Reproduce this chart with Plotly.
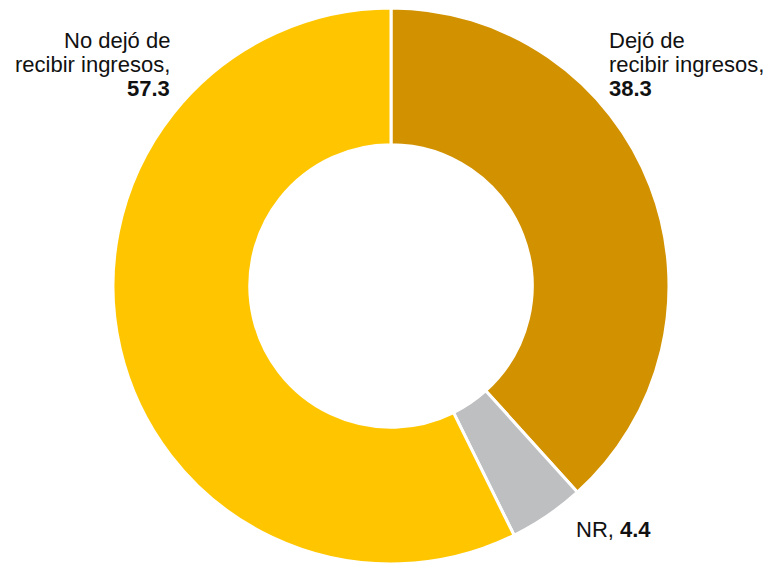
import plotly.graph_objects as go

# data
labels = ['Dejó de recibir ingresos', 'NR', 'No dejó de recibir ingresos']
values = [38.3, 4.4, 57.3]
colors = ['#D29200', '#BEBFC1', '#FFC600']

W, H = 775, 566
OFF = 8  # page body margin shifts the figure, compensate

def px(x):
    return (x - OFF) / W

def py(y):
    return 1 - (y - OFF) / H

cx, cy, r = 391, 286, 278

fig = go.Figure()
fig.add_trace(go.Pie(
    labels=labels,
    values=values,
    hole=0.508,
    sort=False,
    direction='clockwise',
    rotation=0,
    marker=dict(colors=colors, line=dict(color='white', width=3)),
    textinfo='none',
    hoverinfo='label+value',
    showlegend=False,
    domain=dict(x=[px(cx - r), px(cx + r)], y=[py(cy + r), py(cy - r)]),
))

font = dict(family='Liberation Sans, Arial, sans-serif', size=22, color='#111111')

def add_lines(lines, x, baseline0, anchor):
    for i, t in enumerate(lines):
        fig.add_annotation(
            text=t, x=px(x), y=py(baseline0 + i * 23.5 - 7),
            xref='paper', yref='paper', xanchor=anchor, yanchor='middle',
            align=anchor, showarrow=False, font=font)

add_lines(['No dejó de', 'recibir ingresos,', '<b>{}</b>'.format(values[2])], 172, 48, 'right')
add_lines(['Dejó de', 'recibir ingresos,', '<b>{}</b>'.format(values[0])], 607, 48, 'left')
add_lines(['NR, <b>{}</b>'.format(values[1])], 574, 536, 'left')

fig.update_layout(
    width=W, height=H,
    margin=dict(l=0, r=0, t=0, b=0),
    paper_bgcolor='white',
    plot_bgcolor='white',
)

fig.write_html('out.html')
